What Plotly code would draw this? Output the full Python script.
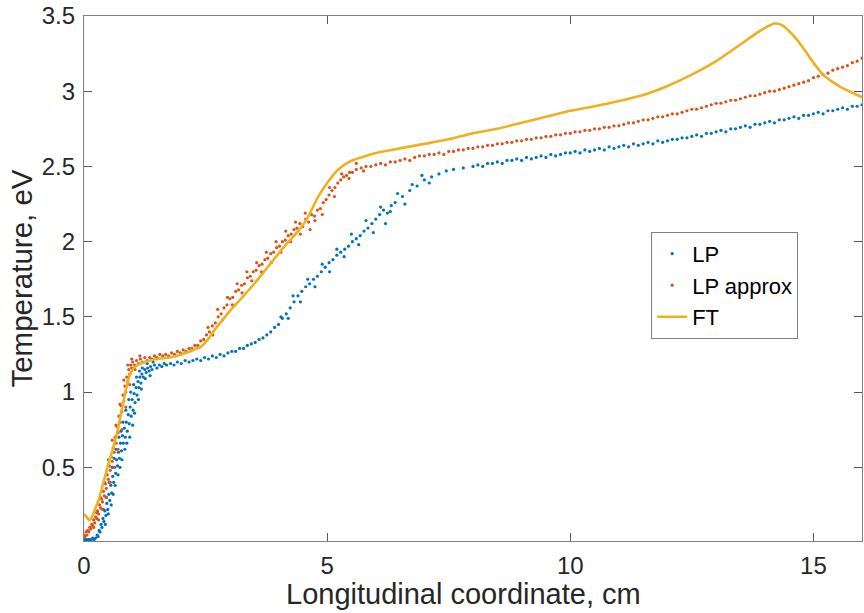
import plotly.graph_objects as go

# ---------------- data ----------------
lp_x = [0.00, 0.03, 0.06, 0.09, 0.12, 0.15, 0.18, 0.21, 0.24, 0.27, 0.29, 0.31, 0.33, 0.35, 0.37, 0.39,
        0.41, 0.43, 0.45, 0.47, 0.49, 0.51, 0.53, 0.55, 0.57, 0.59, 0.61, 0.63, 0.65, 0.67, 0.69, 0.71,
        0.73, 0.75, 0.77, 0.79, 0.81, 0.83, 0.85, 0.87, 0.89, 0.91, 0.93, 0.95, 0.97, 0.99, 1.01, 1.03,
        1.05, 1.07, 1.09, 1.11, 1.13, 1.15, 1.17, 1.19, 1.22, 1.25, 1.28, 1.31, 1.34, 1.37, 1.40, 1.45,
        1.50, 1.55, 1.60, 1.65, 1.70, 1.78, 1.85, 1.92, 2.00, 2.08, 2.16, 2.24, 2.32, 2.40, 2.48, 2.56,
        2.64, 2.72, 2.80, 2.88, 2.96, 3.04, 3.12, 3.20, 3.28, 3.36, 3.44, 3.52, 3.60, 3.68, 3.76, 3.84,
        3.92, 4.00, 4.08, 4.16, 4.24, 4.32, 4.40, 4.48, 4.56, 4.64, 4.72, 4.80, 4.88, 4.96, 5.04, 5.12,
        5.20, 5.28, 5.36, 5.44, 5.52, 5.60, 5.68, 5.76, 5.84, 5.92, 6.00, 6.08, 6.16, 6.24, 6.32, 6.40,
        6.55, 6.70, 6.85, 7.00, 7.15, 7.30, 7.45, 7.60, 7.80,
        8.0, 8.1, 8.2, 8.3, 8.4, 8.5, 8.6, 8.7, 8.8, 8.9, 9.0, 9.1, 9.2, 9.3, 9.4, 9.5, 9.6, 9.7, 9.8, 9.9,
        10.0, 10.1, 10.2, 10.3, 10.4, 10.5, 10.6, 10.7, 10.8, 10.9, 11.0, 11.1, 11.2, 11.3, 11.4, 11.5,
        11.6, 11.7, 11.8, 11.9, 12.0, 12.1, 12.2, 12.3, 12.4, 12.5, 12.6, 12.7, 12.8, 12.9, 13.0, 13.1,
        13.2, 13.3, 13.4, 13.5, 13.6, 13.7, 13.8, 13.9, 14.0, 14.1, 14.2, 14.3, 14.4, 14.5, 14.6, 14.7,
        14.8, 14.9, 15.0, 15.1, 15.2, 15.3, 15.4, 15.5, 15.6, 15.7, 15.8, 15.9, 16.0,
        # scattered points in the noisy parts
        0.40, 0.44, 0.46, 0.50, 0.52, 0.56, 0.58, 0.60, 0.62, 0.64, 0.66, 0.70, 0.72, 0.74, 0.76, 0.78,
        0.80, 0.84, 0.86, 0.88, 0.92, 0.94, 0.96, 1.00, 1.02, 1.04, 1.08, 1.12, 1.14, 1.18, 1.20, 1.26,
        1.30, 1.36, 1.42,
        4.05, 4.20, 4.30, 4.45, 4.60, 4.75, 4.90, 5.05, 5.20, 5.35, 5.50, 5.65, 5.80, 5.95, 6.10, 6.20,
        6.30, 6.45, 6.60, 6.75, 6.95, 7.10]
lp_y = [0.02, 0.02, 0.02, 0.02, 0.02, 0.02, 0.03, 0.02, 0.03, 0.05, 0.04, 0.08, 0.07, 0.12, 0.10, 0.16,
        0.14, 0.21, 0.18, 0.26, 0.22, 0.32, 0.28, 0.38, 0.33, 0.44, 0.40, 0.50, 0.46, 0.55, 0.51, 0.60,
        0.56, 0.66, 0.61, 0.71, 0.66, 0.76, 0.70, 0.80, 0.74, 0.85, 0.79, 0.90, 0.84, 0.95, 0.88, 0.99,
        0.93, 1.03, 0.98, 1.07, 1.03, 1.10, 1.06, 1.12, 1.10, 1.15, 1.13, 1.16, 1.14, 1.17, 1.15, 1.18,
        1.16, 1.18, 1.17, 1.19, 1.18, 1.19, 1.18, 1.20, 1.19, 1.21, 1.20, 1.21, 1.22, 1.21, 1.23, 1.22,
        1.24, 1.23, 1.25, 1.24, 1.26, 1.27, 1.27, 1.29, 1.29, 1.31, 1.32, 1.33, 1.35, 1.36, 1.38, 1.40,
        1.43, 1.45, 1.49, 1.52, 1.56, 1.60, 1.64, 1.67, 1.70, 1.72, 1.75, 1.77, 1.80, 1.83, 1.86, 1.88,
        1.91, 1.93, 1.95, 1.97, 2.00, 2.02, 2.04, 2.07, 2.09, 2.12, 2.15, 2.18, 2.21, 2.19, 2.24, 2.26,
        2.30, 2.34, 2.37, 2.41, 2.43, 2.45, 2.47, 2.48, 2.49,
        2.50, 2.51, 2.50, 2.52, 2.52, 2.53, 2.52, 2.54, 2.54, 2.55, 2.54, 2.56, 2.55, 2.56, 2.57, 2.56, 2.58, 2.57, 2.58, 2.59,
        2.59, 2.60, 2.59, 2.61, 2.60, 2.61, 2.62, 2.61, 2.63, 2.62, 2.63, 2.64, 2.63, 2.65, 2.64, 2.65,
        2.66, 2.65, 2.67, 2.66, 2.67, 2.68, 2.68, 2.69, 2.69, 2.70, 2.71, 2.70, 2.72, 2.72, 2.73, 2.74,
        2.73, 2.75, 2.75, 2.76, 2.77, 2.76, 2.78, 2.78, 2.79, 2.80, 2.79, 2.81, 2.81, 2.82, 2.83, 2.82,
        2.84, 2.84, 2.85, 2.86, 2.85, 2.87, 2.87, 2.88, 2.89, 2.88, 2.90, 2.90, 2.91,
        0.22, 0.12, 0.30, 0.19, 0.40, 0.25, 0.50, 0.32, 0.56, 0.38, 0.62, 0.45, 0.70, 0.50, 0.74, 0.55,
        0.80, 0.62, 0.88, 0.66, 0.95, 0.70, 1.00, 0.78, 1.05, 0.86, 1.10, 0.95, 1.14, 1.02, 1.16, 1.09,
        1.19, 1.11, 1.20,
        1.50, 1.49, 1.64, 1.60, 1.75, 1.70, 1.85, 1.80, 1.95, 1.90, 2.05, 1.98, 2.14, 2.06, 2.23, 2.12,
        2.20, 2.32, 2.25, 2.38, 2.44, 2.39]

lpa_x = [0.00, 0.02, 0.04, 0.06, 0.08, 0.10, 0.12, 0.14, 0.16, 0.18, 0.20, 0.22, 0.24, 0.26, 0.28, 0.30,
         0.32, 0.34, 0.36, 0.38, 0.40, 0.42, 0.44, 0.46, 0.48, 0.50, 0.52, 0.54, 0.56, 0.58, 0.60, 0.62,
         0.64, 0.66, 0.68, 0.70, 0.72, 0.74, 0.76, 0.78, 0.80, 0.82, 0.84, 0.86, 0.88, 0.90, 0.92, 0.94,
         0.96, 0.98, 1.00, 1.04, 1.08, 1.12, 1.16, 1.20, 1.25, 1.30, 1.35, 1.40, 1.45, 1.50, 1.56, 1.62,
         1.68, 1.74, 1.80, 1.86, 1.92, 1.98, 2.04, 2.10, 2.16, 2.22, 2.28, 2.34, 2.40, 2.46, 2.52, 2.58,
         2.64, 2.70, 2.76, 2.82, 2.88, 2.94, 3.00, 3.06, 3.12, 3.18, 3.24, 3.30, 3.36, 3.42, 3.48, 3.54,
         3.60, 3.66, 3.72, 3.78, 3.84, 3.90, 3.96, 4.02, 4.08, 4.14, 4.20, 4.26, 4.32, 4.38, 4.44, 4.50,
         4.56, 4.62, 4.68, 4.74, 4.80, 4.86, 4.92, 4.98, 5.04, 5.10, 5.16, 5.22, 5.28, 5.34, 5.40, 5.46,
         5.52, 5.60, 5.70, 5.80, 5.90,
         6.0, 6.1, 6.2, 6.3, 6.4, 6.5, 6.6, 6.7, 6.8, 6.9, 7.0, 7.1, 7.2, 7.3, 7.4, 7.5, 7.6, 7.7, 7.8, 7.9,
         8.0, 8.1, 8.2, 8.3, 8.4, 8.5, 8.6, 8.7, 8.8, 8.9, 9.0, 9.1, 9.2, 9.3, 9.4, 9.5, 9.6, 9.7, 9.8, 9.9,
         10.0, 10.1, 10.2, 10.3, 10.4, 10.5, 10.6, 10.7, 10.8, 10.9, 11.0, 11.1, 11.2, 11.3, 11.4, 11.5,
         11.6, 11.7, 11.8, 11.9, 12.0, 12.1, 12.2, 12.3, 12.4, 12.5, 12.6, 12.7, 12.8, 12.9, 13.0, 13.1,
         13.2, 13.3, 13.4, 13.5, 13.6, 13.7, 13.8, 13.9, 14.0, 14.1, 14.2, 14.3, 14.4, 14.5, 14.6, 14.7,
         14.8, 14.9, 15.0, 15.1, 15.2, 15.3, 15.4, 15.5, 15.6, 15.7, 15.8, 15.9, 16.0,
         # scattered points in the noisy parts
         0.20, 0.26, 0.30, 0.34, 0.38, 0.42, 0.46, 0.50, 0.54, 0.58, 0.62, 0.66, 0.70, 0.74, 0.78, 0.82,
         0.86, 0.90, 0.94, 0.98, 1.05, 1.15,
         2.55, 2.65, 2.75, 2.85, 2.95, 3.05, 3.15, 3.25, 3.35, 3.45, 3.55, 3.65, 3.75, 3.85, 3.95, 4.05,
         4.15, 4.25, 4.35, 4.45, 4.55, 4.65, 4.75, 4.90, 5.05, 5.15, 5.30, 5.45, 5.60, 5.75]
lpa_y = [0.05, 0.04, 0.07, 0.05, 0.08, 0.07, 0.10, 0.09, 0.12, 0.11, 0.15, 0.13, 0.17, 0.16, 0.21, 0.19,
         0.25, 0.23, 0.29, 0.27, 0.34, 0.31, 0.39, 0.36, 0.45, 0.42, 0.51, 0.48, 0.57, 0.54, 0.63, 0.60,
         0.70, 0.66, 0.77, 0.73, 0.84, 0.80, 0.91, 0.87, 0.98, 0.94, 1.04, 1.00, 1.10, 1.07, 1.15, 1.12,
         1.18, 1.16, 1.20, 1.18, 1.21, 1.19, 1.22, 1.20, 1.23, 1.21, 1.23, 1.22, 1.24, 1.23, 1.25, 1.24,
         1.25, 1.24, 1.26, 1.25, 1.27, 1.26, 1.28, 1.27, 1.29, 1.29, 1.31, 1.31, 1.34, 1.35, 1.38, 1.40,
         1.44, 1.46, 1.50, 1.52, 1.56, 1.58, 1.62, 1.63, 1.67, 1.68, 1.71, 1.72, 1.76, 1.77, 1.80, 1.81,
         1.84, 1.85, 1.88, 1.89, 1.92, 1.93, 1.96, 1.97, 2.00, 2.01, 2.04, 2.05, 2.08, 2.09, 2.12, 2.10,
         2.15, 2.13, 2.18, 2.17, 2.21, 2.22, 2.26, 2.28, 2.31, 2.34, 2.36, 2.39, 2.41, 2.43, 2.44, 2.46,
         2.46, 2.48, 2.49, 2.50, 2.50,
         2.51, 2.52, 2.51, 2.53, 2.53, 2.54, 2.55, 2.54, 2.56, 2.57, 2.57, 2.58, 2.58, 2.59, 2.58, 2.60, 2.60, 2.61, 2.61, 2.62,
         2.62, 2.63, 2.63, 2.64, 2.64, 2.65, 2.65, 2.66, 2.66, 2.67, 2.67, 2.68, 2.68, 2.69, 2.69, 2.70, 2.70, 2.71, 2.71, 2.72,
         2.72, 2.73, 2.73, 2.74, 2.74, 2.75, 2.75, 2.76, 2.76, 2.77, 2.77, 2.78, 2.79, 2.79, 2.80, 2.81,
         2.81, 2.82, 2.83, 2.83, 2.84, 2.85, 2.85, 2.86, 2.87, 2.88, 2.88, 2.89, 2.90, 2.91, 2.92, 2.92,
         2.93, 2.94, 2.94, 2.95, 2.96, 2.97, 2.97, 2.98, 2.99, 3.00, 3.00, 3.01, 3.02, 3.03, 3.04, 3.05,
         3.06, 3.07, 3.09, 3.10, 3.11, 3.12, 3.14, 3.15, 3.16, 3.17, 3.19, 3.20, 3.22,
         0.10, 0.20, 0.15, 0.30, 0.22, 0.40, 0.30, 0.55, 0.40, 0.68, 0.50, 0.78, 0.62, 0.92, 0.75, 1.08,
         0.90, 1.18, 1.05, 1.22, 1.15, 1.24,
         1.43, 1.38, 1.55, 1.48, 1.63, 1.58, 1.72, 1.66, 1.80, 1.74, 1.86, 1.80, 1.93, 1.86, 2.00, 1.93,
         2.07, 2.00, 2.13, 2.05, 2.19, 2.08, 2.14, 2.18, 2.36, 2.30, 2.45, 2.42, 2.52, 2.47]

ft_x = [0.00, 0.05, 0.10, 0.15, 0.20, 0.30, 0.40, 0.50, 0.60, 0.70, 0.80, 0.90, 0.95, 1.00, 1.10, 1.25,
        1.50, 1.75, 2.00, 2.25, 2.40, 2.55, 2.70, 2.85, 3.00, 3.20, 3.50, 3.80, 4.10, 4.43, 4.60, 4.80,
        5.00, 5.20, 5.45, 5.70, 6.00, 6.50, 7.00, 7.50, 8.00, 8.50, 9.00, 9.50, 10.00, 10.50, 11.00,
        11.50, 12.00, 12.50, 13.00, 13.45, 13.80, 14.00, 14.20, 14.35, 14.50, 14.67, 14.85, 15.00,
        15.20, 15.40, 15.60, 15.80, 16.00]
ft_y = [0.19, 0.17, 0.15, 0.16, 0.20, 0.28, 0.40, 0.52, 0.63, 0.76, 0.92, 1.07, 1.12, 1.15, 1.18, 1.20,
        1.22, 1.23, 1.25, 1.28, 1.30, 1.35, 1.42, 1.48, 1.54, 1.61, 1.72, 1.84, 1.96, 2.08, 2.16, 2.29,
        2.39, 2.47, 2.53, 2.56, 2.59, 2.62, 2.65, 2.68, 2.72, 2.75, 2.79, 2.83, 2.87, 2.90, 2.935,
        2.975, 3.035, 3.11, 3.20, 3.30, 3.38, 3.42, 3.45, 3.44, 3.40, 3.34, 3.26, 3.19,
        3.11, 3.06, 3.02, 2.99, 2.96]

x_ticks = [0, 5, 10, 15]
y_ticks = [0.5, 1, 1.5, 2, 2.5, 3, 3.5]
y_tick_text = ["0.5", "1", "1.5", "2", "2.5", "3", "3.5"]
x_title = "Longitudinal coordinate, cm"
y_title = "Temperature, eV"

BLUE, ORANGE, YELLOW = "#0072BD", "#D95319", "#EDB120"
FONT = "Liberation Sans, Arial, Helvetica, sans-serif"
TXT = "#262626"

fig = go.Figure()
fig.add_trace(go.Scatter(x=lp_x, y=lp_y, mode="markers", name="LP",
                         marker=dict(color=BLUE, size=3.2, line=dict(width=0))))
fig.add_trace(go.Scatter(x=lpa_x, y=lpa_y, mode="markers", name="LP approx",
                         marker=dict(color=ORANGE, size=3.2, line=dict(width=0))))
fig.add_trace(go.Scatter(x=ft_x, y=ft_y, mode="lines", name="FT",
                         line=dict(color=YELLOW, width=2.6, shape="spline", smoothing=0.6)))

axis_common = dict(
    showline=True, linecolor="#808080", linewidth=1.3, mirror="ticks",
    ticks="inside", ticklen=8, tickwidth=1, tickcolor="#555555",
    showgrid=False, zeroline=False,
    tickfont=dict(family=FONT, size=24, color=TXT),
)

fig.update_layout(
    width=864, height=613,
    margin=dict(l=84, r=2, t=16, b=72),
    paper_bgcolor="white", plot_bgcolor="white",
    font=dict(family=FONT, color=TXT),
    xaxis=dict(range=[0, 16], tickvals=x_ticks, ticklabelstandoff=3, **axis_common),
    yaxis=dict(range=[0.01, 3.5], tickvals=y_ticks, ticktext=y_tick_text, ticklabelstandoff=3,
               title=dict(text=y_title, font=dict(family=FONT, size=29.5, color=TXT), standoff=0),
               **axis_common),
    legend=dict(x=0.729, y=0.589, xanchor="left", yanchor="top",
                bgcolor="white", bordercolor="#808080", borderwidth=1,
                font=dict(family=FONT, size=22, color="black"),
                itemsizing="trace", tracegroupgap=0),
    showlegend=True,
    annotations=[dict(text=x_title, xref="paper", yref="paper", x=0.488, y=-0.1,
                      xanchor="center", yanchor="middle", showarrow=False,
                      font=dict(family=FONT, size=29, color=TXT))],
)

fig.write_html("out.html")
